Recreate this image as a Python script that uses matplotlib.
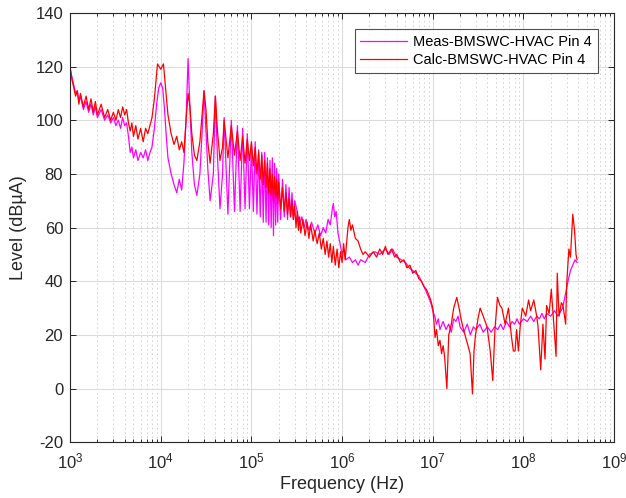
import matplotlib

matplotlib.use("Agg")
import matplotlib.pyplot as plt
from matplotlib.ticker import LogLocator, LogFormatterMathtext, MultipleLocator, NullFormatter

plt.rcParams["font.family"] = ["Liberation Sans", "DejaVu Sans"]
plt.rcParams["mathtext.fontset"] = "custom"
plt.rcParams["mathtext.rm"] = "Liberation Sans"
plt.rcParams["axes.unicode_minus"] = False

meas_freq = [
    1.0e3, 1.05e3, 1.1e3, 1.15e3, 1.2e3, 1.25e3, 1.3e3, 1.4e3, 1.5e3, 1.6e3,
    1.7e3, 1.8e3, 1.9e3, 2.0e3, 2.2e3, 2.4e3, 2.6e3, 2.8e3, 3.0e3, 3.2e3,
    3.4e3, 3.6e3, 3.8e3, 4.0e3, 4.2e3, 4.4e3, 4.6e3, 4.8e3, 5.0e3, 5.3e3,
    5.6e3, 6.0e3, 6.4e3, 6.8e3, 7.2e3, 7.6e3, 8.0e3, 8.5e3, 9.0e3, 9.5e3,
    1.0e4, 1.05e4, 1.1e4, 1.15e4, 1.2e4, 1.3e4, 1.4e4, 1.5e4, 1.6e4, 1.7e4,
    1.8e4, 1.9e4, 2.0e4, 2.1e4, 2.2e4, 2.35e4, 2.5e4, 2.7e4, 2.85e4, 3.0e4,
    3.15e4, 3.3e4, 3.5e4, 3.8e4, 4.0e4, 4.2e4, 4.5e4, 4.8e4, 5.0e4, 5.5e4,
    6.0e4, 6.5e4, 7.0e4, 7.5e4, 8.0e4, 8.5e4, 9.0e4, 9.5e4, 1.0e5, 1.05e5,
    1.1e5, 1.15e5, 1.2e5, 1.25e5, 1.3e5, 1.35e5, 1.4e5, 1.45e5, 1.5e5, 1.55e5,
    1.6e5, 1.65e5, 1.7e5, 1.75e5, 1.8e5, 1.85e5, 1.9e5, 1.95e5, 2.0e5, 2.1e5,
    2.2e5, 2.3e5, 2.4e5, 2.5e5, 2.6e5, 2.7e5, 2.8e5, 2.9e5, 3.0e5, 3.2e5,
    3.4e5, 3.6e5, 3.8e5, 4.0e5, 4.3e5, 4.6e5, 5.0e5, 5.4e5, 5.8e5, 6.2e5,
    6.6e5, 7.0e5, 7.4e5, 7.8e5, 8.0e5, 8.3e5, 8.6e5, 9.0e5, 9.5e5, 1.0e6,
    1.05e6, 1.1e6, 1.2e6, 1.3e6, 1.4e6, 1.5e6, 1.6e6, 1.8e6, 2.0e6, 2.3e6,
    2.6e6, 3.0e6, 3.3e6, 3.6e6, 4.0e6, 4.5e6, 5.0e6, 5.5e6, 6.0e6, 6.5e6,
    7.0e6, 7.5e6, 8.0e6, 8.5e6, 9.0e6, 9.5e6, 1.0e7, 1.05e7, 1.1e7, 1.15e7,
    1.2e7, 1.3e7, 1.4e7, 1.5e7, 1.6e7, 1.7e7, 1.8e7, 1.9e7, 2.0e7, 2.2e7,
    2.4e7, 2.6e7, 2.8e7, 3.0e7, 3.3e7, 3.6e7, 4.0e7, 4.4e7, 4.8e7, 5.2e7,
    5.6e7, 6.0e7, 6.5e7, 7.0e7, 7.5e7, 8.0e7, 8.5e7, 9.0e7, 1.0e8, 1.1e8,
    1.2e8, 1.3e8, 1.4e8, 1.5e8, 1.6e8, 1.7e8, 1.8e8, 2.0e8, 2.2e8, 2.4e8,
    2.5e8, 2.7e8, 2.9e8, 3.1e8, 3.3e8, 3.5e8, 3.7e8, 3.9e8,
]
meas_level = [
    119, 116, 113, 110, 111, 107, 109, 104, 107, 103,
    106, 102, 105, 101, 104, 100, 102, 99, 101, 98,
    100, 97, 101, 98, 99, 94, 88, 90, 86, 89,
    85, 88, 86, 89, 85, 88, 90, 97, 106, 112,
    114, 112, 104, 94, 86, 80, 76, 73, 78, 74,
    84, 100, 123, 104, 88, 76, 72, 80, 95, 111,
    96, 82, 70, 80, 109, 88, 67, 80, 101, 65,
    100, 66, 98, 66, 97, 67, 95, 67, 91, 66,
    92, 65, 89, 64, 88, 62, 88, 62, 86, 61,
    85, 60, 86, 57, 84, 61, 82, 62, 80, 63,
    78, 64, 76, 63, 75, 64, 73, 63, 70, 66,
    61, 64, 60, 63, 59, 62, 58, 61, 57, 60,
    58, 63, 61, 67, 69, 64, 66, 58, 54, 50,
    52, 48, 49, 47, 48, 46, 48, 47, 50, 51,
    50, 52, 50, 52, 49, 48, 47, 45, 44, 43,
    42, 40, 38, 36, 34, 32, 29, 27, 24, 26,
    22, 25, 22, 24, 21, 26, 25, 27, 23, 21,
    24, 20, 23, 22, 24, 21, 23, 21, 23, 22,
    24, 22, 25, 23, 25, 24, 26, 24, 26, 25,
    27, 25, 27, 26, 28, 26, 28, 27, 29, 27,
    28, 30, 35, 40, 44, 46, 48, 47,
]

# ─── Calculated spectrum ──────────────────────────────────────────────
calc_freq = [
    1.0e3, 1.05e3, 1.1e3, 1.15e3, 1.2e3, 1.25e3, 1.3e3, 1.4e3, 1.5e3, 1.6e3,
    1.7e3, 1.8e3, 1.9e3, 2.0e3, 2.2e3, 2.4e3, 2.6e3, 2.8e3, 3.0e3, 3.2e3,
    3.4e3, 3.6e3, 3.8e3, 4.0e3, 4.2e3, 4.4e3, 4.6e3, 4.8e3, 5.0e3, 5.3e3,
    5.6e3, 6.0e3, 6.4e3, 6.8e3, 7.2e3, 7.6e3, 8.0e3, 8.5e3, 9.2e3, 1.0e4,
    1.07e4, 1.13e4, 1.2e4, 1.3e4, 1.4e4, 1.5e4, 1.6e4, 1.7e4, 1.8e4, 1.9e4,
    2.0e4, 2.1e4, 2.2e4, 2.35e4, 2.5e4, 2.7e4, 2.85e4, 3.0e4, 3.15e4, 3.3e4,
    3.5e4, 3.8e4, 4.0e4, 4.2e4, 4.5e4, 4.8e4, 5.0e4, 5.5e4, 6.0e4, 6.5e4,
    7.0e4, 7.5e4, 8.0e4, 8.5e4, 9.0e4, 9.5e4, 1.0e5, 1.05e5, 1.1e5, 1.15e5,
    1.2e5, 1.25e5, 1.3e5, 1.35e5, 1.4e5, 1.45e5, 1.5e5, 1.55e5, 1.6e5, 1.65e5,
    1.7e5, 1.75e5, 1.8e5, 1.85e5, 1.9e5, 1.95e5, 2.0e5, 2.1e5, 2.2e5, 2.3e5,
    2.4e5, 2.5e5, 2.6e5, 2.7e5, 2.8e5, 2.9e5, 3.0e5, 3.1e5, 3.2e5, 3.3e5,
    3.4e5, 3.5e5, 3.7e5, 3.9e5, 4.1e5, 4.3e5, 4.5e5, 4.8e5, 5.0e5, 5.3e5,
    5.6e5, 5.9e5, 6.2e5, 6.5e5, 6.8e5, 7.1e5, 7.4e5, 7.7e5, 8.0e5, 8.4e5,
    8.8e5, 9.2e5, 9.6e5, 1.0e6, 1.04e6, 1.08e6, 1.12e6, 1.16e6, 1.2e6, 1.25e6,
    1.3e6, 1.4e6, 1.5e6, 1.6e6, 1.7e6, 1.8e6, 1.9e6, 2.0e6, 2.2e6, 2.4e6,
    2.6e6, 2.8e6, 3.0e6, 3.2e6, 3.5e6, 3.8e6, 4.0e6, 4.4e6, 4.8e6, 5.2e6,
    5.6e6, 6.0e6, 6.5e6, 7.0e6, 7.5e6, 8.0e6, 8.5e6, 9.0e6, 9.5e6, 1.0e7,
    1.03e7, 1.06e7, 1.1e7, 1.15e7, 1.2e7, 1.25e7, 1.3e7, 1.35e7, 1.43e7, 1.5e7,
    1.6e7, 1.7e7, 1.84e7, 1.95e7, 2.05e7, 2.18e7, 2.4e7, 2.58e7, 2.74e7, 2.85e7,
    2.96e7, 3.15e7, 3.33e7, 3.6e7, 3.97e7, 4.3e7, 4.59e7, 4.85e7, 5.17e7, 5.5e7,
    5.79e7, 6.28e7, 6.83e7, 7.4e7, 7.74e7, 8.09e7, 8.4e7, 8.8e7, 9.2e7, 9.7e7,
    1.06e8, 1.14e8, 1.2e8, 1.3e8, 1.4e8, 1.45e8, 1.55e8, 1.64e8, 1.73e8, 1.8e8,
    1.92e8, 2.03e8, 2.13e8, 2.29e8, 2.36e8, 2.47e8, 2.62e8, 2.73e8, 2.92e8, 3.0e8,
    3.17e8, 3.3e8, 3.5e8, 3.66e8, 3.8e8, 3.9e8,
]
calc_level = [
    120, 115, 112, 109, 111, 106, 110, 105, 109, 104,
    108, 103, 107, 102, 106, 101, 104, 100, 103, 100,
    104, 101, 105, 102, 104, 99, 96, 99, 94, 98,
    93, 97, 92, 97, 95, 98, 101, 108, 121, 119,
    121, 112, 102, 95, 91, 94, 89, 92, 88, 100,
    110, 105, 95, 87, 85, 92, 102, 111, 104, 92,
    84, 95, 109, 97, 85, 90, 100, 86, 98, 87,
    96, 85, 94, 84, 93, 85, 92, 83, 90, 80,
    88, 78, 87, 76, 85, 75, 84, 73, 82, 72,
    80, 70, 79, 71, 78, 69, 77, 67, 75, 66,
    73, 65, 71, 64, 70, 63, 68, 60, 66, 59,
    64, 58, 63, 57, 62, 56, 61, 55, 59, 54,
    58, 52, 56, 50, 55, 49, 54, 47, 53, 46,
    52, 45, 51, 47, 54, 48, 54, 60, 63, 59,
    61, 56, 55, 52, 50, 51, 50, 49, 51, 49,
    52, 50, 53, 50, 52, 49, 50, 47, 48, 45,
    46, 43, 44, 41, 40, 38, 37, 35, 33, 30,
    25, 19, 22, 16, 18, 13, 16, 12, 0, 20,
    24, 30, 34, 30, 26, 22, 17, 13, -2, 14,
    20, 26, 30, 27, 23, 14, 3, 22, 34, 31,
    30, 24, 30, 19, 14, 14, 22, 14, 23, 30,
    27, 33, 29, 33, 27, 23, 7, 24, 11, 31,
    28, 37, 27, 12, 43, 27, 32, 31, 24, 39,
    52, 49, 65, 59, 50, 48,
]

MEAS_COLOR = "#FF00FF"
CALC_COLOR = "#FF0000"
INK = "#262626"

fig = plt.figure(figsize=(6.26, 4.98), dpi=100)
ax = fig.add_axes([0.112, 0.112, 0.869, 0.862])

ax.semilogx(meas_freq, meas_level, color=MEAS_COLOR, lw=0.9,
            label="Meas-BMSWC-HVAC Pin 4")
ax.semilogx(calc_freq, calc_level, color=CALC_COLOR, lw=0.9,
            label="Calc-BMSWC-HVAC Pin 4")

ax.set_xlim(1e3, 1e9)
ax.set_ylim(-20, 140)
ax.xaxis.set_major_locator(LogLocator(base=10, numticks=10))
ax.xaxis.set_major_formatter(LogFormatterMathtext())
ax.xaxis.set_minor_locator(LogLocator(base=10, subs=range(2, 10), numticks=100))
ax.xaxis.set_minor_formatter(NullFormatter())
ax.yaxis.set_major_locator(MultipleLocator(20))

ax.grid(True, which="major", color="#dcdcdc", lw=0.8, ls="-")
ax.grid(True, which="minor", axis="x", color="#d0d0d0", lw=0.7, ls=(0, (1.5, 3)))
ax.set_axisbelow(True)

ax.tick_params(which="both", direction="in", top=True, right=True,
               labelsize=12, colors=INK, width=0.7)
ax.tick_params(which="major", length=4, pad=5)
ax.tick_params(axis="x", which="major", pad=7)
ax.tick_params(which="minor", length=2.5)
for s in ax.spines.values():
    s.set_color(INK)
    s.set_linewidth(0.8)

ax.set_xlabel("Frequency (Hz)", fontsize=13, color=INK, labelpad=3)
ax.set_ylabel("Level (dBµA)", fontsize=13, color=INK, labelpad=6)

leg = ax.legend(loc="upper right", bbox_to_anchor=(0.983, 0.979), fontsize=10.5,
                frameon=True, fancybox=False, borderpad=0.4, handlelength=3.2,
                handletextpad=0.4, labelspacing=0.3)
leg.get_frame().set_edgecolor(INK)
leg.get_frame().set_linewidth(0.8)

fig.savefig("out.png", dpi=100)
